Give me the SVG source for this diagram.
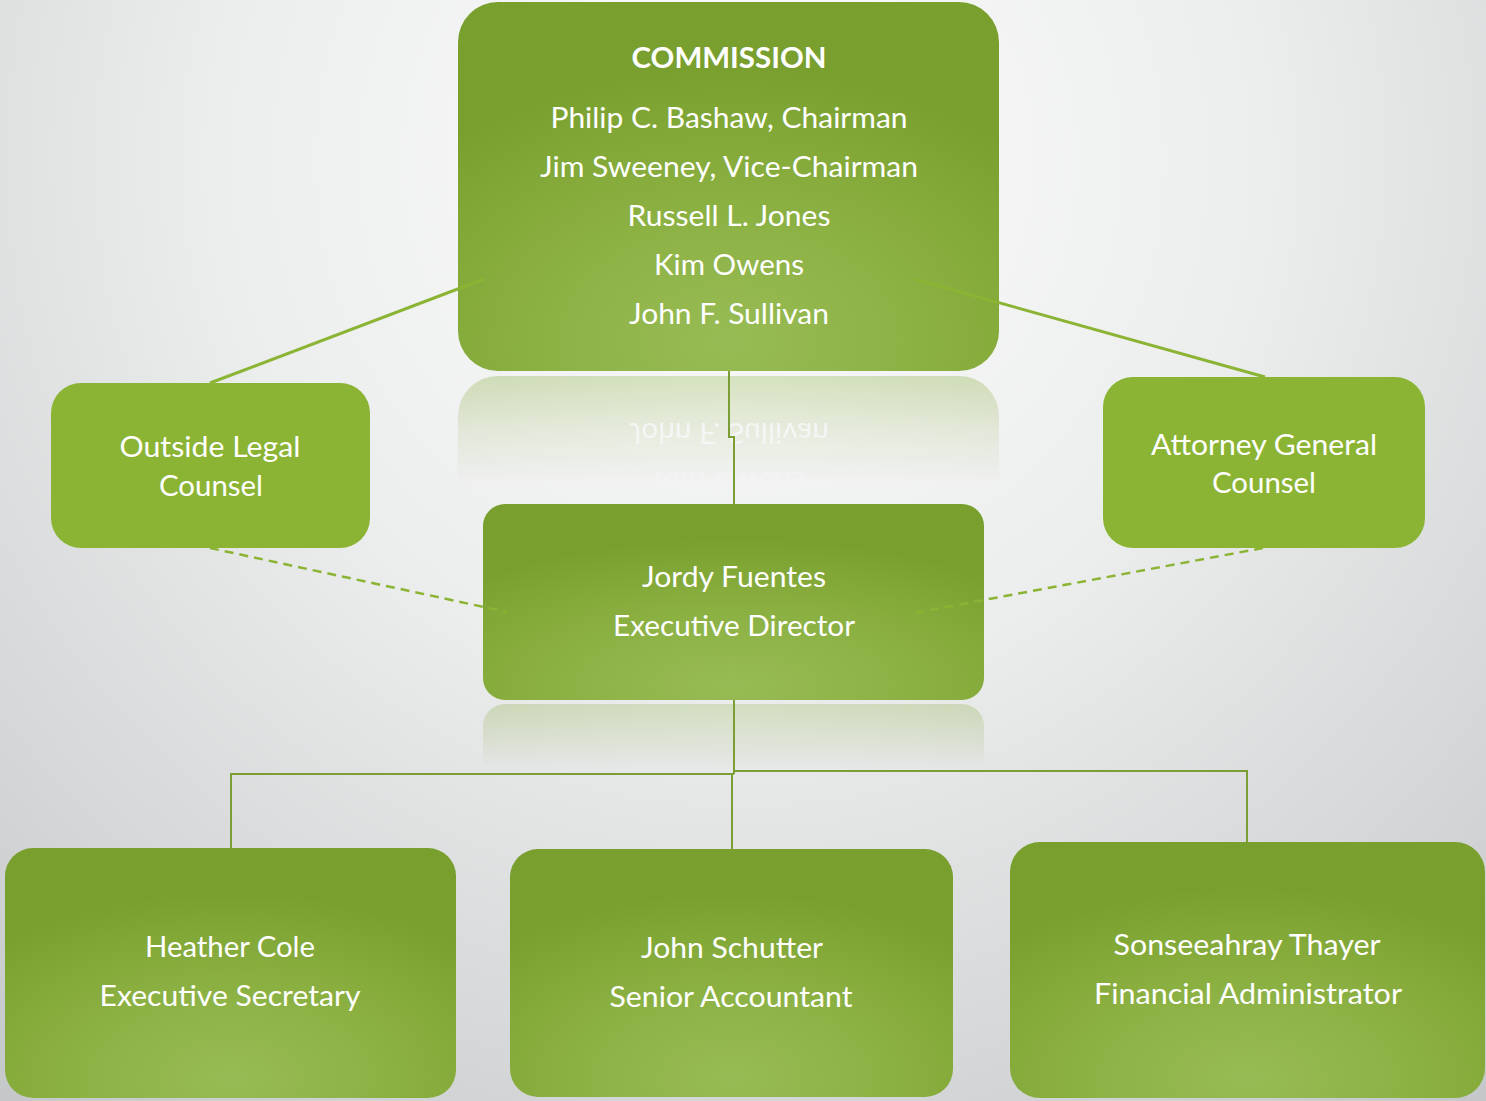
<svg xmlns="http://www.w3.org/2000/svg" width="1486" height="1101" viewBox="0 0 1486 1101">
<defs>
<radialGradient id="bg" gradientUnits="userSpaceOnUse" cx="740" cy="160" r="1300">
<stop offset="0" stop-color="#fcfcfc"/>
<stop offset="0.4" stop-color="#eceded"/>
<stop offset="1" stop-color="#bfc2c4"/>
</radialGradient>
<radialGradient id="boxg" cx="0.5" cy="0.92" r="0.75">
<stop offset="0" stop-color="#98bc55"/>
<stop offset="0.55" stop-color="#8aaf40"/>
<stop offset="1" stop-color="#79a02f"/>
</radialGradient>
<linearGradient id="fadeA" gradientUnits="userSpaceOnUse" x1="0" y1="374" x2="0" y2="495">
<stop offset="0" stop-color="#fff" stop-opacity="0.34"/>
<stop offset="0.5" stop-color="#fff" stop-opacity="0.12"/>
<stop offset="0.9" stop-color="#fff" stop-opacity="0"/>
</linearGradient>
<linearGradient id="fadeB" gradientUnits="userSpaceOnUse" x1="0" y1="702" x2="0" y2="768">
<stop offset="0" stop-color="#fff" stop-opacity="0.3"/>
<stop offset="1" stop-color="#fff" stop-opacity="0"/>
</linearGradient>
<mask id="mA" maskUnits="userSpaceOnUse" x="0" y="0" width="1486" height="1101">
<rect x="440" y="374" width="580" height="130" fill="url(#fadeA)"/>
</mask>
<mask id="mB" maskUnits="userSpaceOnUse" x="0" y="0" width="1486" height="1101">
<rect x="470" y="702" width="530" height="70" fill="url(#fadeB)"/>
</mask>
</defs>
<style>
.t{font-family:Lato,"Open Sans","Liberation Sans",sans-serif;font-size:28px;fill:#ffffff;text-anchor:middle}
.b{font-weight:bold;font-size:29px}
.g{fill:url(#boxg)}
.f{fill:#8cb434}
.sol{stroke:#8cb434;stroke-width:3;fill:none}
.dsh{stroke:#8cb434;stroke-width:2.5;fill:none;stroke-dasharray:9 6}
.tree{stroke:#7b9f35;stroke-width:2;fill:none}
</style>
<rect x="0" y="0" width="1486" height="1101" fill="url(#bg)"/>

<g id="reflections">
<g mask="url(#mA)">
<g transform="matrix(1 0 0 -1 0 747)">
<rect x="458" y="2" width="541" height="369" rx="40" class="g"/>
<text class="t" x="729" y="324" textLength="200" lengthAdjust="spacingAndGlyphs">John F. Sullivan</text>
<text class="t" x="729" y="275" textLength="150" lengthAdjust="spacingAndGlyphs">Kim Owens</text>
</g>
</g>
<g mask="url(#mB)">
<g transform="matrix(1 0 0 -1 0 1404)">
<rect x="483" y="504" width="501" height="196" rx="22" class="g"/>
</g>
</g>
</g>

<g id="commission">
<rect x="458" y="2" width="541" height="369" rx="40" class="g"/>
<text class="t b" x="729" y="68" textLength="195" lengthAdjust="spacingAndGlyphs">COMMISSION</text>
<text class="t" x="729" y="128" textLength="357" lengthAdjust="spacingAndGlyphs">Philip C. Bashaw, Chairman</text>
<text class="t" x="729" y="177" textLength="378" lengthAdjust="spacingAndGlyphs">Jim Sweeney, Vice-Chairman</text>
<text class="t" x="729" y="226" textLength="203" lengthAdjust="spacingAndGlyphs">Russell L. Jones</text>
<text class="t" x="729" y="275" textLength="150" lengthAdjust="spacingAndGlyphs">Kim Owens</text>
<text class="t" x="729" y="324" textLength="200" lengthAdjust="spacingAndGlyphs">John F. Sullivan</text>
</g>

<g id="outside-legal">
<rect x="51" y="383" width="319" height="165" rx="30" class="f"/>
<text class="t" x="210" y="457" textLength="181" lengthAdjust="spacingAndGlyphs">Outside Legal</text>
<text class="t" x="211" y="496" textLength="104" lengthAdjust="spacingAndGlyphs">Counsel</text>
</g>

<g id="attorney-general">
<rect x="1103" y="377" width="322" height="171" rx="30" class="f"/>
<text class="t" x="1264" y="455" textLength="226" lengthAdjust="spacingAndGlyphs">Attorney General</text>
<text class="t" x="1264" y="493" textLength="104" lengthAdjust="spacingAndGlyphs">Counsel</text>
</g>

<g id="executive-director">
<rect x="483" y="504" width="501" height="196" rx="22" class="g"/>
<text class="t" x="734" y="587" textLength="184" lengthAdjust="spacingAndGlyphs">Jordy Fuentes</text>
<text class="t" x="734" y="636" textLength="242" lengthAdjust="spacingAndGlyphs">Executive Director</text>
</g>

<g id="heather-cole">
<rect x="5" y="848" width="451" height="250" rx="28" class="g"/>
<text class="t" x="230" y="957" textLength="170" lengthAdjust="spacingAndGlyphs">Heather Cole</text>
<text class="t" x="230" y="1006" textLength="261" lengthAdjust="spacingAndGlyphs">Executive Secretary</text>
</g>

<g id="john-schutter">
<rect x="510" y="849" width="443" height="248" rx="28" class="g"/>
<text class="t" x="732" y="958" textLength="182" lengthAdjust="spacingAndGlyphs">John Schutter</text>
<text class="t" x="731" y="1007" textLength="243" lengthAdjust="spacingAndGlyphs">Senior Accountant</text>
</g>

<g id="sonseeahray-thayer">
<rect x="1010" y="842" width="475" height="256" rx="30" class="g"/>
<text class="t" x="1247" y="955" textLength="267" lengthAdjust="spacingAndGlyphs">Sonseeahray Thayer</text>
<text class="t" x="1248" y="1004" textLength="308" lengthAdjust="spacingAndGlyphs">Financial Administrator</text>
</g>

<g id="connectors">
<line class="sol" x1="484" y1="279" x2="210" y2="383"/>
<line class="sol" x1="914" y1="279" x2="1265" y2="377"/>
<line class="dsh" x1="210" y1="548" x2="507" y2="612"/>
<line class="dsh" x1="1263" y1="548" x2="914" y2="613"/>
<polyline class="tree" points="729,371 729,437 734,437 734,504"/>
<line class="tree" x1="734" y1="700" x2="734" y2="774"/>
<polyline class="tree" points="734,774 231,774 231,848"/>
<polyline class="tree" points="734,771 1247,771 1247,842"/>
<line class="tree" x1="732" y1="774" x2="732" y2="849"/>
</g>
</svg>
